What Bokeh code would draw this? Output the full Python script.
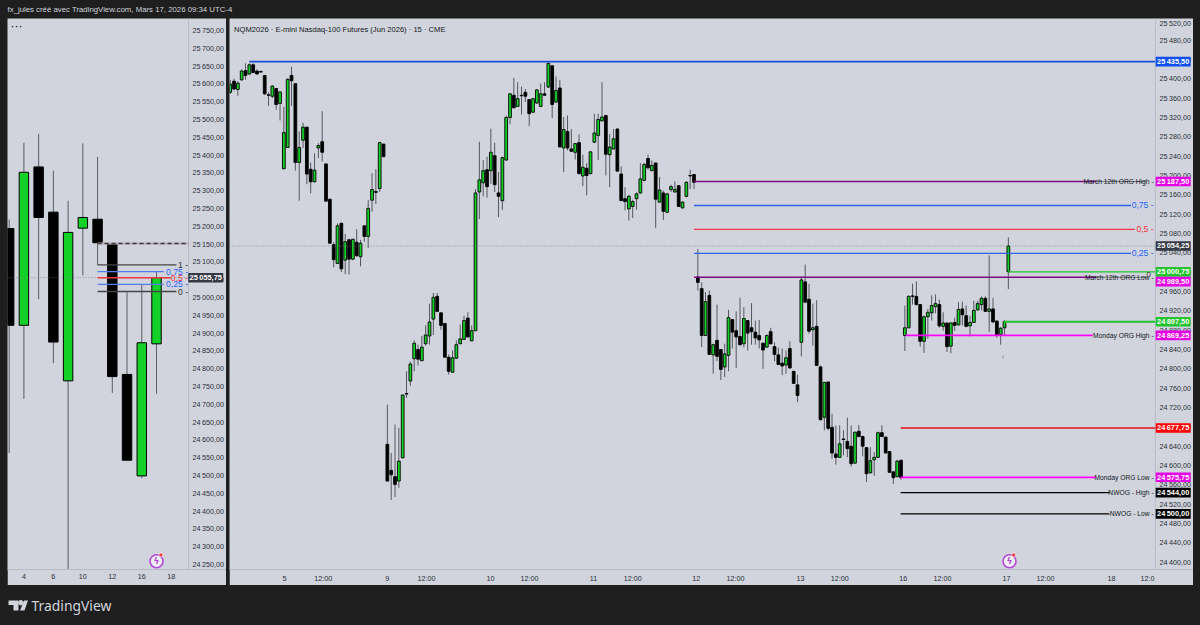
from bokeh.plotting import figure
from bokeh.layouts import column, row
from bokeh.models import Spacer, Range1d, FixedTicker
from bokeh.core.properties import value
from bokeh.embed import file_html
from bokeh.resources import INLINE

# ---- main chart candles ----
r_open = [25372,25395,25378,25398,25417,25410,25429,25416,25415,25407,25367,25364,25380,25349,25214,25258,25407,25390,25227,25273,25300,25213,25187,25257,25270,25224,25151,25057,25018,25101,25025,25067,25027,25062,25032,25096,25074,25149,25165,25173,25265,
 24644,24590,24577,24568,24616,24749,24775,24821,24840,24817,24852,24868,24903,24950,24916,24894,24824,24793,24822,24852,24861,24905,24858,24879,
 25166,25185,25212,25210,25241,25164,25148,25232,25320,25366,25343,25366,25372,25357,25331,25350,25343,25369,25383,25427,25352,25381,25257,25291,25255,25248,25268,25199,25215,25204,25269,25283,25313,25324,25243,25255,25296,25203,25152,25131,25136,25152,25164,25190,25235,25210,25226,25145,25164,25124,25171,25166,25179,25133,25157,25200,25202,
 24990,24966,24869,24952,24829,24859,24840,24804,24828,24902,24879,24867,24852,24900,24885,24876,24869,24853,24845,24877,24846,24829,24812,24808,24842,24795,24767,24855,24980,24944,24881,24888,24804,24700,24773,
 24679,24624,24617,24655,24650,24640,24605,24671,24660,24637,24585,24612,24617,24668,24659,24629,24587,24577,24611,
 24869,24885,24951,24950,24933,24857,24908,24916,24929,24933,24888,24895,24847,24896,24891,24924,24910,24889,24896,24922,24933,24946,24919,24924,24899,24871,24885,25001]
r_high = [25398,25400,25395,25420,25432,25432,25432,25420,25417,25407,25372,25387,25380,25373,25342,25401,25425,25390,25291,25309,25301,25227,25246,25267,25333,25224,25151,25062,25101,25103,25079,25069,25069,25089,25067,25096,25149,25205,25213,25270,25265,
 24726,24626,24685,24678,24746,24795,24815,24859,24850,24868,24890,24935,24957,24957,24916,24895,24830,24838,24859,24892,24910,24917,24890,25172,
 25270,25232,25239,25297,25268,25207,25239,25324,25370,25402,25393,25384,25379,25357,25359,25379,25390,25393,25433,25427,25405,25398,25321,25324,25296,25267,25285,25243,25226,25249,25328,25328,25393,25324,25286,25296,25298,25219,25176,25160,25150,25165,25226,25226,25243,25231,25226,25197,25169,25164,25181,25188,25179,25146,25188,25212,25202,
 25048,24979,24959,24962,24852,24933,24840,24852,24922,24903,24919,24947,24928,24901,24936,24900,24901,24855,24871,24885,24855,24844,24842,24838,24857,24795,24788,24991,25016,24976,24935,24942,24807,24773,24773,
 24707,24683,24683,24673,24699,24683,24670,24684,24662,24637,24638,24628,24670,24683,24659,24630,24588,24612,24611,
 24931,24952,24976,24981,24933,24910,24924,24952,24954,24943,24917,24895,24896,24906,24938,24939,24931,24910,24941,24941,24950,24950,25035,24947,24900,24886,24901,25072]
r_low = [25369,25376,25365,25396,25398,25409,25413,25409,25413,25367,25344,25360,25336,25314,25213,25258,25344,25210,25148,25257,25182,25163,25186,25236,25229,25147,25060,25010,25017,25000,24996,24995,25025,25032,25012,25063,25050,25125,25141,25166,25239,
 24568,24529,24535,24554,24615,24740,24765,24795,24807,24816,24848,24850,24870,24918,24881,24824,24788,24793,24821,24852,24860,24865,24857,24879,
 25110,25157,25154,25183,25166,25114,25129,25231,25306,25340,25343,25326,25352,25302,25330,25348,25343,25365,25381,25319,25350,25259,25207,25252,25250,25233,25202,25178,25159,25202,25267,25232,25312,25200,25176,25254,25209,25148,25128,25107,25112,25129,25162,25188,25212,25209,25091,25144,25108,25123,25166,25164,25135,25132,25155,25172,25172,
 24962,24845,24868,24830,24790,24816,24777,24783,24795,24842,24802,24848,24844,24838,24850,24850,24842,24800,24844,24850,24816,24809,24787,24790,24800,24769,24731,24826,24936,24873,24848,24807,24693,24673,24673,
 24614,24602,24616,24621,24617,24598,24604,24659,24619,24566,24584,24579,24617,24659,24626,24585,24562,24576,24571,
 24837,24884,24933,24931,24846,24833,24862,24900,24915,24885,24879,24835,24832,24879,24890,24890,24886,24867,24895,24921,24921,24918,24876,24896,24864,24850,24868,24965]
r_close = [25389,25379,25391,25416,25407,25429,25413,25410,25414,25369,25366,25385,25347,25373,25289,25399,25396,25227,25258,25300,25203,25187,25211,25262,25248,25147,25060,25026,25096,25007,25063,25027,25068,25034,25060,25074,25132,25171,25167,25268,25239,
 24568,24581,24561,24609,24746,24748,24810,24853,24820,24845,24870,24897,24948,24919,24890,24824,24795,24823,24850,24862,24900,24866,24879,25164,
 25191,25210,25177,25248,25181,25157,25237,25320,25369,25340,25359,25365,25364,25328,25359,25377,25369,25366,25432,25347,25376,25259,25295,25257,25250,25266,25204,25217,25200,25249,25288,25316,25321,25244,25259,25276,25209,25148,25146,25157,25146,25162,25193,25223,25216,25221,25151,25170,25126,25162,25177,25171,25136,25145,25186,25199,25186,
 24979,24869,24939,24830,24850,24826,24799,24831,24906,24876,24866,24850,24904,24874,24877,24864,24860,24839,24869,24852,24830,24809,24806,24823,24802,24770,24745,24984,24938,24878,24885,24807,24695,24772,24677,
 24626,24617,24645,24654,24635,24604,24669,24660,24640,24583,24610,24617,24668,24660,24626,24586,24575,24609,24575,
 24885,24950,24950,24933,24857,24908,24917,24931,24935,24889,24895,24846,24895,24890,24923,24912,24888,24896,24921,24935,24946,24919,24924,24897,24871,24884,24898,25054]

# ---- left chart candles ----
l_open = [25194,24922,25367,25240,24766,25195,25220,25150,24784,24499,24870]
l_high = [25219,25435,25460,25357,25272,25433,25395,25150,25015,25037,25074]
l_low = [24563,24715,24996,24816,24232,25062,25092,24732,24543,24493,24730]
l_close = [24922,25352,25225,24875,25183,25225,25154,24778,24543,24873,25055.75]

# ---- axis ticks ----
r_yticks = [25520,25480,25440,25400,25360,25320,25280,25240,25200,25160,25120,25080,25040,25000,24960,24920,24880,24840,24800,24760,24720,24680,24640,24600,24560,24520,24480,24440,24400]
l_yticks = [25750,25700,25650,25600,25550,25500,25450,25400,25350,25300,25250,25200,25150,25100,25050,25000,24950,24900,24850,24800,24750,24700,24650,24600,24550,24500,24450,24400,24350,24300,24250]
r_xticks = [14.17,24.3,41,51.2,67.9,78.1,94.8,105,121.6,131.8,148.8,159,175.6,185.8,202.5,212.7,229.9,239.3]
r_xlabels = ["5","12:00","9","12:00","10","12:00","11","12:00","12","12:00","13","12:00","16","12:00","17","12:00","18","12:0"]
l_xticks = [1,3,5,7,9,11]
l_xlabels = ["4","6","10","12","16","18"]

# ---- horizontal levels on the main chart ----
lvl_price = [25435.5,25187.5,24989.5,25000.75,24897.5,24869.25,24677.75,24575.75,24544,24500]
lvl_start = [5,121,121,203,201.8,176.2,174.9,174.9,174.9,174.9]
lvl_end = [241.3,226,226,241.3,241.3,225,241.3,225.8,229.4,229.4]
lvl_color = ["#1a4fdc","#7d0a85","#7d0a85","#22c32d","#22c32d","#ff00ff","#e8101a","#ff00ff","#000000","#000000"]
lvl_width = [1.8,1.5,1.5,1.3,1.8,1.8,1.3,1.8,1.4,1.4]
fib_price = [25138,25088.5,25039]
fib_end = [235,236,235]
fib_color = ["#2f62e8","#f23645","#2f62e8"]
fib_text = ["0,75 -","0,5 -","0,25 -"]
fib_tcolor = ["#2962ff","#f23645","#2962ff"]
note_price = [25187.5,24989.5,24869.25,24575.75,24544,24500]
note_text = ["March 12th ORG High -","March 12th ORG Low -","Monday ORG High -","Monday ORG Low -","NWOG - High -","NWOG - Low -"]
# tag_pos: where each tag sits on the scale (TradingView pushes overlapping tags apart)
tag_pos = [25435.5,25187.5,25054.25,25000.75,24980.5,24897.5,24869.25,24677.75,24575.75,24544,24500]
tag_text = ["25\u2009435,50","25\u2009187,50","25\u2009054,25","25\u2009000,75","24\u2009989,50","24\u2009897,50","24\u2009869,25","24\u2009677,75","24\u2009575,75","24\u2009544,00","24\u2009500,00"]
tag_color = ["#0f4ef0","#e600e6","#363a45","#22c32d","#e600e6","#22c32d","#e600e6","#ff0000","#e600e6","#000000","#000000"]
last_price = 25054.25

# ---- levels on the left chart ----
lf_price = [25092,25073,25055.6,25037,25017]
lf_end = [11.35,10.5,10.95,10.5,11.35]
lf_color = ["#444444","#4f7df0","#f23645","#4f7df0","#444444"]
lf_text = ["1 -","0,75 -","0,5 -","0,25 -","0 -"]
lf_tcolor = ["#333333","#2962ff","#f23645","#2962ff","#333333"]
lf_dash_price = 25152
lf_last = 25055.75

BG = "#d1d4dc"
DARK = "#1e1e1e"
FONT = "Liberation Sans"
UP = "#14d128"
NUM = lambda v: f"{v//1000}\u2009{v%1000:03d},00"

def panel(w, h, xr, yr, yticks, xticks, xlabels, axis_x):
    p = figure(width=w, height=h, x_range=Range1d(*xr), y_range=Range1d(*yr),
               y_axis_location="right", output_backend="svg", toolbar_location=None,
               background_fill_color=BG, border_fill_color=BG,
               min_border_left=0, min_border_top=0, min_border_bottom=16, min_border_right=0)
    p.grid.visible = False
    p.outline_line_color = None
    p.yaxis.ticker = FixedTicker(ticks=yticks)
    p.yaxis.major_label_overrides = {v: NUM(v) for v in yticks}
    p.xaxis.ticker = FixedTicker(ticks=xticks)
    p.xaxis.major_label_overrides = dict(zip(xticks, xlabels))
    for ax in (p.xaxis[0], p.yaxis[0]):
        ax.major_tick_line_color = None
        ax.minor_tick_line_color = None
        ax.axis_line_color = "#b8bbc4"
        ax.major_label_text_font = FONT
        ax.major_label_text_font_size = "7.2px"
        ax.major_label_text_color = "#2a2e39"
        ax.major_tick_out = 0
        ax.major_tick_in = 0
    # the price scale sits inside the frame, under the price tags
    p.yaxis[0].level = "underlay"
    p.yaxis[0].axis_line_color = None
    p.yaxis.major_label_standoff = -34
    p.xaxis.major_label_standoff = 4
    p.segment([axis_x], [yr[0]], [axis_x], [yr[1]], color="#b8bbc4", line_width=1)
    return p

def candles(p, o, h, l, c, width, wick, lw):
    x = list(range(len(o)))
    col = [UP if cc >= oo else "#000000" for oo, cc in zip(o, c)]
    p.segment(x, h, x, l, color=wick, line_width=1)
    top = [max(a, b) for a, b in zip(o, c)]
    bot = [min(a, b) for a, b in zip(o, c)]
    p.vbar(x=x, top=top, bottom=bot, width=width, fill_color=col, line_color="#000000", line_width=lw)

def tags(p, x, prices, texts, colors):
    xs = [x] * len(prices)
    p.rect(xs, prices, width=35, height=9.6, width_units="screen", height_units="screen",
           fill_color=colors, line_color=None)
    p.text(xs, prices, text=texts, text_color="#ffffff", text_align="center", text_baseline="middle",
           text_font=value(FONT), text_font_size="7.4px", text_font_style="bold")

# ---------------- left ----------------
lp = panel(219, 567, (-0.113, 14.75), (24236, 25784), l_yticks, l_xticks, l_xlabels, 12.17)
candles(lp, l_open, l_high, l_low, l_close, 0.64, "#5a5d66", 1)
lp.segment([-0.113], [lf_last], [12.17], [lf_last], color="#787b86", line_width=0.8, line_dash="1 2")
lp.segment([6] , [lf_dash_price], [12.17], [lf_dash_price], color="#b9a3c0", line_width=2)
lp.segment([6] , [lf_dash_price], [12.17], [lf_dash_price], color="#3a3a3a", line_width=1.6, line_dash="4 3")
lp.segment([6]*5, lf_price, lf_end, lf_price, color=lf_color, line_width=1.3)
lp.text([12.14]*5, lf_price, text=lf_text, text_color=lf_tcolor, text_align="right", text_baseline="middle",
        text_font=value(FONT), text_font_size="8.6px")
lp.text([0.5], [25762], text=["\u00b7\u00b7\u00b7"], text_color="#131722", text_font=value(FONT), text_font_size="12px",
        text_baseline="middle", text_align="center")
lp.scatter([10], [24259], size=13, fill_color="#ffffff", fill_alpha=0.6, line_color="#b548d8", line_width=1.6)
lp.text([10], [24259], text=["\u03df"], text_color="#b548d8", text_font=value("DejaVu Sans"), text_font_size="9px",
        text_align="center", text_baseline="middle", text_font_style="bold")
lp.scatter([10.3], [24277], size=4, fill_color="#f23645", line_color="#ffffff", line_width=0.6)
tags(lp, 13.34, [lf_last], ["25\u2009055,75"], ["#363a45"])

# ---------------- right ----------------
rp = panel(964, 567, (-0.18, 251.3), (24385, 25524.8), r_yticks, r_xticks, r_xlabels, 241.35)
candles(rp, r_open, r_high, r_low, r_close, 0.72, "#54575f", 0.9)
rp.segment([201.6], [24822], [201.6], [24828], color="#8a8d96", line_width=1)
rp.segment([-0.18], [last_price], [241.3], [last_price], color="#787b86", line_width=0.8, line_dash="1 2")
rp.segment([121]*3, fib_price, fib_end, fib_price, color=fib_color, line_width=1.4)
rp.text([240.9]*3, fib_price, text=fib_text, text_color=fib_tcolor, text_align="right", text_baseline="middle",
        text_font=value(FONT), text_font_size="8.6px")
rp.segment(lvl_start, lvl_price, lvl_end, lvl_price, color=lvl_color, line_width=lvl_width)
rp.segment([226, 226], [25187.5, 24989.5], [239, 239], [25187.5, 24989.5], color="#55585f", line_width=0.8)
rp.text([240.9]*6, note_price, text=note_text, text_color="#131722", text_align="right", text_baseline="middle",
        text_font=value(FONT), text_font_size="6.7px")
rp.text([240.2], [24989.5], text=["0"], text_color="#333333", text_align="right", text_baseline="bottom",
        text_font=value(FONT), text_font_size="8px")
rp.text([1.0], [25503], text=["NQM2026 \u00b7 E-mini Nasdaq-100 Futures (Jun 2026) \u00b7 15 \u00b7 CME"], text_color="#131722",
        text_baseline="middle", text_font=value(FONT), text_font_size="7.6px")
rp.scatter([203.3], [24402], size=13, fill_color="#ffffff", fill_alpha=0.6, line_color="#b548d8", line_width=1.6)
rp.text([203.3], [24402], text=["\u03df"], text_color="#b548d8", text_font=value("DejaVu Sans"), text_font_size="9px",
        text_align="center", text_baseline="middle", text_font_style="bold")
rp.scatter([204.4], [24415], size=4, fill_color="#f23645", line_color="#ffffff", line_width=0.6)
tags(rp, 246.0, tag_pos, tag_text, tag_color)

# ---------------- header and footer strips ----------------
def strip(h):
    s = figure(width=1200, height=h, x_range=Range1d(0, 1200), y_range=Range1d(h, 0), output_backend="svg",
               toolbar_location=None, background_fill_color=DARK, border_fill_color=DARK,
               x_axis_type=None, y_axis_type=None, min_border=0)
    s.grid.visible = False
    s.outline_line_color = None
    return s

hd = strip(18)
hd.text([7], [9], text=["fx_jules cr\u00e9\u00e9 avec TradingView.com, Mars 17, 2026 09:34 UTC-4"], text_color="#d1d4dc",
        text_baseline="middle", text_font=value(FONT), text_font_size="7.8px")

ft = strip(40)
LY = 15
ft.patch([8, 18, 18, 13, 13, 8], [LY, LY, LY+10, LY+10, LY+4.5, LY+4.5], color="#d1d4dc", line_width=0)
ft.scatter([20.3], [LY+2.2], size=4.5, color="#d1d4dc")
ft.patch([23.5, 27.5, 24, 19.5], [LY, LY, LY+10, LY+10], color="#d1d4dc", line_width=0)
ft.text([31], [LY+5], text=["TradingView"], text_color="#d1d4dc", text_baseline="middle",
        text_font=value("Noto Sans"), text_font_size="13.9px")

body = row(Spacer(width=7, height=567), lp, Spacer(width=3, height=567), rp, Spacer(width=7, height=567), spacing=0)
page = column(hd, body, ft, spacing=0)

html = file_html(page, INLINE)
html = html.replace("<head>", "<head><style>html,body{margin:0!important;background:#1e1e1e;overflow:hidden}</style>", 1)
open("out.html", "w").write(html)
